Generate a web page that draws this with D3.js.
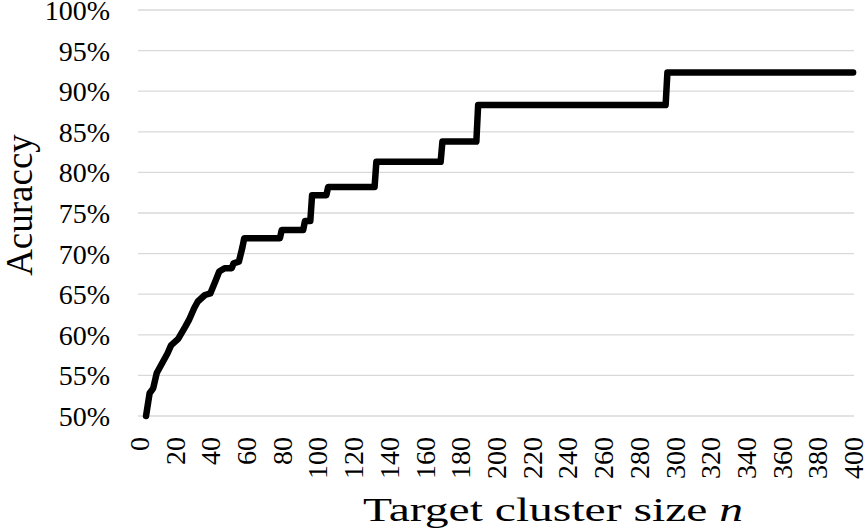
<!DOCTYPE html>
<html>
<head>
<meta charset="utf-8">
<script src="https://cdn.jsdelivr.net/npm/d3@7/dist/d3.min.js"></script>
<style>
  html, body { margin: 0; padding: 0; background: #fff; }
  svg text { font-family: "Liberation Serif", "Tinos", "Times New Roman", Times, "DejaVu Serif", serif !important; fill: #000; }
</style>
</head>
<body>
<svg id="chart" width="865" height="530"></svg>
<script>
// Data
const clusterSize = [4, 6, 8, 10, 13, 16, 18, 22, 26, 28, 31, 33, 37, 40, 43, 45, 48, 52, 53, 56, 58, 59,
                     79, 80, 92, 93, 96, 97, 105, 106, 132, 133, 169, 170, 189, 190, 295, 296, 400];
const accuracy = [50.0, 52.8, 53.4, 55.3, 56.5, 57.7, 58.7, 59.5, 61.0, 61.8, 63.3, 64.1, 64.9, 65.1, 66.7, 67.8, 68.2, 68.2, 68.8, 69.0, 70.8, 71.9,
                  71.9, 72.9, 72.9, 74.0, 74.0, 77.2, 77.2, 78.2, 78.2, 81.3, 81.3, 83.8, 83.8, 88.3, 88.3, 92.3, 92.3];
const xTicks = d3.range(0, 401, 20);
const yTicks = [50, 55, 60, 65, 70, 75, 80, 85, 90, 95, 100];
const xTitle = "Target cluster size ";
const xTitleItalic = "n";
const yTitle = "Acuraccy";

const svg = d3.select("#chart");
const plotLeft = 138, plotRight = 854, plotTop = 10, plotBottom = 416;
const nCats = 401;
const catW = (plotRight - plotLeft) / nCats;

const x = d3.scaleLinear().domain([0, 400]).range([plotLeft + catW / 2, plotRight - catW / 2]);
const y = d3.scaleLinear().domain([50, 100]).range([plotBottom, plotTop]);

// Gridlines
svg.append("g").selectAll("line").data(yTicks).join("line")
  .attr("x1", plotLeft).attr("x2", plotRight)
  .attr("y1", d => y(d)).attr("y2", d => y(d))
  .attr("stroke", "#d9d9d9").attr("stroke-width", 1.3);

// Y axis labels
const yAxis = d3.axisLeft(y).tickValues(yTicks).tickSize(0).tickPadding(0).tickFormat(d => d + "%");
const gy = svg.append("g").attr("transform", `translate(110,0)`).call(yAxis);
gy.select(".domain").remove();
gy.selectAll("text").attr("font-size", 28).attr("dy", "0.34em").attr("fill", "#000");

// X axis labels
const xAxis = d3.axisBottom(x).tickValues(xTicks).tickSize(0).tickPadding(0);
const gx = svg.append("g").attr("transform", `translate(0,437)`).call(xAxis);
gx.select(".domain").remove();
gx.selectAll("text")
  .attr("font-size", 28).attr("fill", "#000")
  .attr("text-anchor", "end")
  .attr("transform", "rotate(-90)")
  .attr("x", 0).attr("y", 0).attr("dx", 0).attr("dy", "0.34em");

// Line
const line = d3.line().x((d, i) => x(clusterSize[i])).y(d => y(d));
svg.append("path").datum(accuracy)
  .attr("d", line)
  .attr("fill", "none").attr("stroke", "#000").attr("stroke-width", 6.5)
  .attr("stroke-linejoin", "round").attr("stroke-linecap", "round");

// Axis titles
const xt = svg.append("text").attr("x", 553).attr("y", 521).attr("text-anchor", "middle").attr("font-size", 34)
  .attr("textLength", 380).attr("lengthAdjust", "spacingAndGlyphs");
xt.append("tspan").text(xTitle);
xt.append("tspan").attr("font-style", "italic").text(xTitleItalic);

svg.append("text").attr("transform", "translate(32,205) rotate(-90)")
  .attr("text-anchor", "middle").attr("font-size", 37).text(yTitle);
</script>
</body>
</html>
